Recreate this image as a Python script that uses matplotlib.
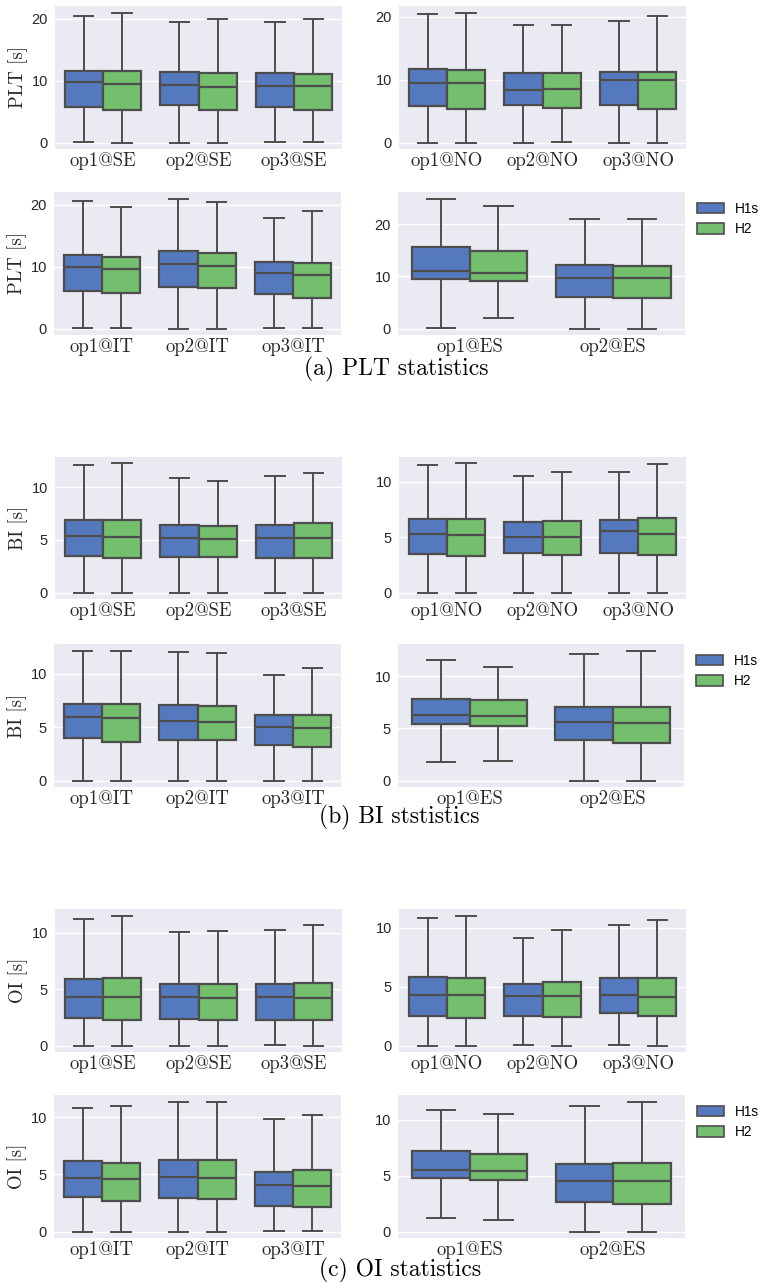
import matplotlib
matplotlib.use("Agg")
import matplotlib.pyplot as plt
from matplotlib.patches import Patch

# ------------------------------------------------------------------
# Box statistics per panel: [whislo, q1, med, q3, whishi]
# ------------------------------------------------------------------
sites_se = ["op1@SE", "op2@SE", "op3@SE"]
sites_no = ["op1@NO", "op2@NO", "op3@NO"]
sites_it = ["op1@IT", "op2@IT", "op3@IT"]
sites_es = ["op1@ES", "op2@ES"]
hue_names = ["H1s", "H2"]

plt_se_h1 = [[0.05, 5.8, 9.7, 11.6, 20.5], [0.0, 6.0, 9.3, 11.4, 19.4], [0.15, 5.8, 9.2, 11.3, 19.5]]
plt_se_h2 = [[0.0, 5.3, 9.5, 11.6, 21.0], [0.0, 5.3, 8.9, 11.2, 19.9], [0.15, 5.3, 9.2, 11.1, 19.9]]
plt_no_h1 = [[0.0, 5.85, 9.5, 11.7, 20.4], [0.0, 5.9, 8.35, 11.1, 18.7], [0.0, 5.9, 10.0, 11.3, 19.3]]
plt_no_h2 = [[0.0, 5.4, 9.4, 11.5, 20.7], [0.1, 5.5, 8.55, 11.1, 18.7], [0.0, 5.4, 9.9, 11.3, 20.2]]
plt_it_h1 = [[0.05, 6.05, 10.0, 11.9, 20.6], [0.0, 6.65, 10.45, 12.5, 21.0], [0.05, 5.65, 8.95, 10.7, 17.9]]
plt_it_h2 = [[0.05, 5.8, 9.6, 11.6, 19.6], [0.0, 6.5, 10.15, 12.15, 20.4], [0.05, 4.9, 8.7, 10.6, 18.95]]
plt_es_h1 = [[0.05, 9.45, 11.1, 15.7, 24.9], [0.0, 6.1, 9.7, 12.1, 21.0]]
plt_es_h2 = [[2.1, 9.1, 10.7, 14.9, 23.5], [0.0, 5.8, 9.7, 11.9, 21.0]]

bi_se_h1 = [[0.0, 3.47, 5.4, 6.9, 12.15], [0.0, 3.34, 5.17, 6.4, 10.9], [0.0, 3.31, 5.14, 6.43, 11.1]]
bi_se_h2 = [[0.0, 3.31, 5.24, 6.88, 12.25], [0.0, 3.34, 5.08, 6.34, 10.63], [0.0, 3.31, 5.14, 6.56, 11.3]]
bi_no_h1 = [[0.0, 3.45, 5.32, 6.67, 11.47], [0.0, 3.57, 4.98, 6.34, 10.48], [0.0, 3.57, 5.53, 6.55, 10.87]]
bi_no_h2 = [[0.0, 3.33, 5.23, 6.67, 11.65], [0.0, 3.42, 5.05, 6.43, 10.9], [0.0, 3.39, 5.26, 6.7, 11.6]]
bi_it_h1 = [[0.0, 3.95, 5.9, 7.2, 12.16], [0.0, 3.76, 5.6, 7.05, 12.0], [0.0, 3.29, 4.98, 6.1, 9.9]]
bi_it_h2 = [[0.0, 3.6, 5.8, 7.12, 12.16], [0.0, 3.76, 5.45, 6.99, 11.94], [0.0, 3.13, 4.95, 6.1, 10.53]]
bi_es_h1 = [[1.8, 5.43, 6.33, 7.85, 11.54], [0.0, 3.86, 5.63, 7.1, 12.12]]
bi_es_h2 = [[1.9, 5.27, 6.17, 7.75, 10.87], [0.0, 3.57, 5.53, 7.1, 12.48]]

oi_se_h1 = [[0.0, 2.45, 4.33, 5.91, 11.28], [0.0, 2.33, 4.3, 5.43, 10.09], [0.03, 2.3, 4.27, 5.46, 10.24]]
oi_se_h2 = [[0.0, 2.27, 4.27, 5.97, 11.55], [0.0, 2.3, 4.18, 5.43, 10.18], [0.0, 2.27, 4.21, 5.58, 10.69]]
oi_no_h1 = [[0.0, 2.54, 4.33, 5.84, 10.8], [0.06, 2.54, 4.25, 5.19, 9.12], [0.06, 2.74, 4.27, 5.7, 10.23]]
oi_no_h2 = [[0.0, 2.36, 4.3, 5.78, 11.05], [0.0, 2.42, 4.25, 5.41, 9.83], [0.0, 2.48, 4.16, 5.78, 10.71]]
oi_it_h1 = [[0.0, 3.04, 4.66, 6.14, 10.8], [0.0, 2.95, 4.75, 6.28, 11.39], [0.03, 2.27, 4.1, 5.25, 9.82]]
oi_it_h2 = [[0.0, 2.63, 4.6, 5.99, 11.03], [0.0, 2.89, 4.69, 6.28, 11.36], [0.03, 2.12, 4.01, 5.37, 10.24]]
oi_es_h1 = [[1.17, 4.77, 5.53, 7.24, 10.87], [0.0, 2.64, 4.5, 6.04, 11.23]]
oi_es_h2 = [[0.99, 4.56, 5.41, 6.91, 10.48], [0.0, 2.46, 4.47, 6.16, 11.62]]

# ------------------------------------------------------------------
# Style
# ------------------------------------------------------------------
W, H = 758, 1282
bg = "#EAEAF2"
edge = "#4D4D4D"
colors = ["#5579BF", "#73BF6E"]
serif = ["cmr10", "DejaVu Serif"]
sans = ["Liberation Sans", "DejaVu Sans"]
plt.rcParams["font.family"] = sans


def rect(left, top, right, bottom):
    return [left / W, 1 - bottom / H, (right - left) / W, (bottom - top) / H]


def box_panel(fig, r, labels, h1, h2, ylabel=None, legend=False):
    ax = fig.add_axes(rect(*r))
    ax.set_facecolor(bg)
    for side in ax.spines.values():
        side.set_visible(False)
    for k, series in enumerate([h1, h2]):
        stats = []
        for s in series:
            stats.append(
                dict(whislo=s[0], q1=s[1], med=s[2], q3=s[3], whishi=s[4], fliers=[])
            )
        pos = [i - 0.2 + 0.4 * k for i in range(len(labels))]
        ax.bxp(
            stats,
            positions=pos,
            widths=0.4,
            capwidths=0.2,
            patch_artist=True,
            showfliers=False,
            manage_ticks=False,
            boxprops=dict(facecolor=colors[k], edgecolor=edge, linewidth=1.6),
            medianprops=dict(color=edge, linewidth=1.6),
            whiskerprops=dict(color=edge, linewidth=1.4),
            capprops=dict(color=edge, linewidth=1.4),
        )
    ax.set_xlim(-0.5, len(labels) - 0.5)
    ax.set_xticks(range(len(labels)))
    ax.set_xticklabels(labels, fontfamily=serif, fontsize=13.5, color="#262626")
    ax.tick_params(axis="x", length=0, pad=2)
    ax.tick_params(axis="y", length=0, pad=5, labelsize=10.5, labelcolor="#262626")
    ax.yaxis.grid(True, color="white", linewidth=1.0)
    ax.set_axisbelow(True)
    if ylabel:
        ax.set_ylabel(ylabel, fontfamily=serif, fontsize=13.5, color="#262626")
        ax.yaxis.set_label_coords(-0.094, 0.5)
    if legend:
        handles = [
            Patch(facecolor=colors[i], edgecolor=edge, linewidth=1.2, label=hue_names[i])
            for i in range(2)
        ]
        ax.legend(
            handles=handles,
            loc="upper left",
            bbox_to_anchor=(1.014, 0.99),
            frameon=False,
            fontsize=9.8,
            handlelength=2.0,
            handleheight=0.8,
            handletextpad=0.8,
            borderaxespad=0.2,
        )
    return ax


fig = plt.figure(figsize=(W / 100, H / 100), dpi=100)

# (a) PLT
box_panel(fig, (55, 6, 342, 149), sites_se, plt_se_h1, plt_se_h2, ylabel="PLT [s]")
box_panel(fig, (399, 6, 686, 149), sites_no, plt_no_h1, plt_no_h2)
box_panel(fig, (54, 192, 341, 335), sites_it, plt_it_h1, plt_it_h2, ylabel="PLT [s]")
box_panel(fig, (398, 192, 685, 335), sites_es, plt_es_h1, plt_es_h2, legend=True)
fig.text(396 / W, 1 - 369 / H, "(a) PLT statistics", fontfamily=serif,
         fontsize=17, ha="center", va="center")

# (b) BI
box_panel(fig, (55, 457, 342, 599), sites_se, bi_se_h1, bi_se_h2, ylabel="BI [s]")
box_panel(fig, (399, 457, 686, 599), sites_no, bi_no_h1, bi_no_h2)
box_panel(fig, (54, 644, 341, 787), sites_it, bi_it_h1, bi_it_h2, ylabel="BI [s]")
box_panel(fig, (398, 644, 684, 787), sites_es, bi_es_h1, bi_es_h2, legend=True)
fig.text(399 / W, 1 - 817 / H, "(b) BI ststistics", fontfamily=serif,
         fontsize=17, ha="center", va="center")

# (c) OI
box_panel(fig, (55, 909, 342, 1052), sites_se, oi_se_h1, oi_se_h2, ylabel="OI [s]")
box_panel(fig, (399, 909, 686, 1052), sites_no, oi_no_h1, oi_no_h2)
box_panel(fig, (54, 1095, 341, 1238), sites_it, oi_it_h1, oi_it_h2, ylabel="OI [s]")
box_panel(fig, (398, 1095, 685, 1238), sites_es, oi_es_h1, oi_es_h2, legend=True)
fig.text(400 / W, 1 - 1270 / H, "(c) OI statistics", fontfamily=serif,
         fontsize=17, ha="center", va="center")

fig.savefig("out.png", dpi=100, facecolor="white")
